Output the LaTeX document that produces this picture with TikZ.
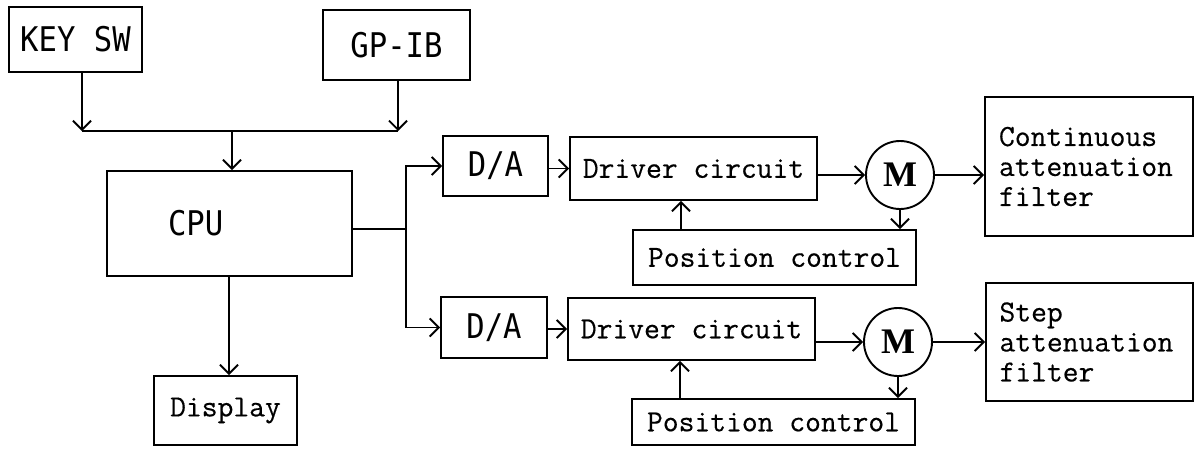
\documentclass[tikz,border=0pt]{standalone}
\usepackage{fontspec}
\usetikzlibrary{arrows.meta}
\newfontfamily\courfont[FakeBold=0.4]{Latin Modern Mono}
\newfontfamily\ocrfont[FakeStretch=0.9]{DejaVu Sans Mono}
\newfontfamily\motorfont{Liberation Serif}
\begin{document}
\begin{tikzpicture}[x=1pt,y=-1pt,
  line width=1.9pt,
  arr/.style={-{Straight Barb[length=9pt,width=18pt,line width=1.9pt]}},
  blk/.style={draw,rectangle,inner sep=0pt},
  ocr/.style={font=\ocrfont\fontsize{34}{38}\selectfont},
  cour/.style={font=\courfont\fontsize{30.7}{30}\selectfont},
  motor/.style={draw,circle,minimum size=68pt,inner sep=0pt,font=\motorfont\bfseries\fontsize{36}{38}\selectfont},
  filt/.style={blk,cour,align=left,text width=180pt,inner xsep=0pt}
]
\useasboundingbox (0,0) rectangle (1197,450);
% input blocks
\node[blk,ocr,minimum width=133pt,minimum height=65pt] (key) at (75.5,39.5) {KEY SW};
\node[blk,ocr,minimum width=147pt,minimum height=70pt] (gpib) at (396.5,45) {GP-IB};
\node[draw,rectangle,ocr,minimum height=105pt,text width=123pt,inner xsep=61pt,inner ysep=0pt,align=left] (cpu) at (229.5,223.5) {CPU};
\node[blk,cour,minimum width=143pt,minimum height=69pt] (disp) at (225.5,410.5) {Display};
% channel 1
\node[blk,ocr,minimum width=105pt,minimum height=60pt] (da1) at (495.5,166) {D/A};
\node[blk,cour,minimum width=247pt,minimum height=63pt] (drv1) at (693.5,168.5) {Driver circuit};
\node[blk,cour,minimum width=283pt,minimum height=55pt] (pc1) at (774.5,257.5) {Position control};
\node[motor] (m1) at (900,175) {M};
\node[filt,minimum height=139pt,minimum width=208pt] (f1) at (1089,166.5) {Continuous\\attenuation\\filter};
% channel 2
\node[blk,ocr,minimum width=106pt,minimum height=61pt] (da2) at (494,327.5) {D/A};
\node[blk,cour,minimum width=247pt,minimum height=62pt] (drv2) at (691.5,329) {Driver circuit};
\node[blk,cour,minimum width=283pt,minimum height=46pt] (pc2) at (773.5,422) {Position control};
\node[motor] (m2) at (898,342) {M};
\node[filt,minimum height=118pt,minimum width=207pt] (f2) at (1089.5,342) {Step\\attenuation\\filter};
% bus
\coordinate (busL) at (82,131);
\coordinate (busR) at (398,131);
\coordinate (busM) at (232,131);
\draw[arr] (key.south -| busL) -- (busL);
\draw[arr] (gpib.south -| busR) -- (busR);
\draw (busL) -- (busR);
\draw[arr] (busM) -- (busM |- cpu.north);
% CPU to D/A
\coordinate (split) at (406,229);
\draw (cpu.east |- split) -- (split);
\draw[arr] (split) |- (da1.west);
\draw[arr] (split) |- (da2.west);
\draw[arr] (cpu.south -| disp.north) ++(3.5,0) coordinate (cpub) -- (cpub |- disp.north);
% channel 1 signal path
\draw[arr] (da1.east |- drv1.west) -- (drv1.west);
\draw[arr] (drv1.east |- m1.west) -- (m1.west);
\draw[arr] (m1.east) -- (f1.west |- m1.east);
\draw[arr] (m1.south) -- (m1.south |- pc1.north);
\coordinate (fb1) at (681,0);
\draw[arr] (pc1.north -| fb1) -- (drv1.south -| fb1);
% channel 2 signal path
\draw[arr] (da2.east |- drv2.west) -- (drv2.west);
\draw[arr] (drv2.east |- m2.west) -- (m2.west);
\draw[arr] (m2.east) -- (f2.west |- m2.east);
\draw[arr] (m2.south) -- (m2.south |- pc2.north);
\coordinate (fb2) at (680,0);
\draw[arr] (pc2.north -| fb2) -- (drv2.south -| fb2);
\end{tikzpicture}
\end{document}
